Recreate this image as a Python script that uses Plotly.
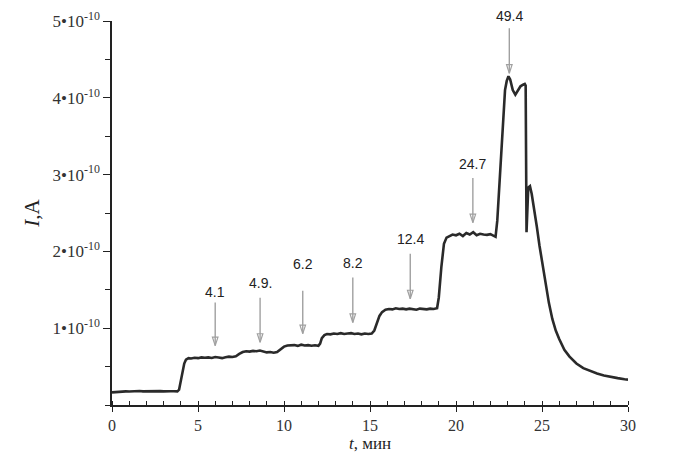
import plotly.graph_objects as go

# time, min
t = [0, 0.2, 0.4, 0.6, 0.8, 1.0, 1.2, 1.4, 1.6, 1.8, 2.0, 2.2, 2.4, 2.6, 2.8, 3.0, 3.2, 3.4, 3.6, 3.8,
     3.9, 4.0, 4.1, 4.2, 4.3, 4.45,
     4.6, 4.8, 5.0, 5.2, 5.4, 5.6, 5.8, 6.0, 6.2, 6.4, 6.6, 6.8, 7.0,
     7.2, 7.4, 7.6, 7.8,
     8.0, 8.2, 8.4, 8.6, 8.8, 9.0, 9.2, 9.4, 9.6,
     9.8, 10.0, 10.2,
     10.4, 10.6, 10.8, 11.0, 11.2, 11.4, 11.6, 11.8, 12.0,
     12.1, 12.2, 12.35, 12.5,
     12.7, 12.9, 13.1, 13.3, 13.5, 13.7, 13.9, 14.1, 14.3, 14.5, 14.7, 14.9, 15.1,
     15.25, 15.4, 15.55, 15.7, 15.9,
     16.1, 16.3, 16.5, 16.7, 16.9, 17.1, 17.3, 17.5, 17.7, 17.9, 18.1, 18.3, 18.5, 18.7, 18.9,
     19.0, 19.15, 19.3, 19.45, 19.6,
     19.8, 20.0, 20.2, 20.4, 20.6, 20.8, 21.0, 21.2, 21.4, 21.6, 21.8, 22.0, 22.2, 22.3,
     22.4, 22.55, 22.7, 22.85, 22.95, 23.05, 23.15, 23.3, 23.45, 23.6, 23.75, 23.9, 24.0, 24.05,
     24.1, 24.2, 24.3, 24.4, 24.55, 24.7, 24.85, 25.0, 25.2, 25.4, 25.6, 25.8, 26.0, 26.3, 26.6,
     27.0, 27.4, 27.8, 28.2, 28.6, 29.0, 29.4, 29.8, 30.0]

# current, units of 1e-10 A
current = [0.165, 0.17, 0.175, 0.172, 0.178, 0.175, 0.18, 0.176, 0.182, 0.178, 0.18, 0.176, 0.183, 0.179, 0.181, 0.177, 0.182, 0.179, 0.18, 0.178,
           0.2, 0.32, 0.45, 0.54, 0.59, 0.61,
           0.605, 0.615, 0.61, 0.62, 0.615, 0.62, 0.612, 0.625, 0.618, 0.61, 0.622, 0.63, 0.625,
           0.635, 0.665, 0.69, 0.70,
           0.695, 0.705, 0.70, 0.71, 0.695, 0.685, 0.69, 0.68, 0.69,
           0.73, 0.76, 0.775,
           0.775, 0.78, 0.77, 0.785, 0.775, 0.78, 0.772, 0.778, 0.77,
           0.80, 0.87, 0.91, 0.925,
           0.92, 0.93, 0.925, 0.935, 0.925, 0.93, 0.935, 0.925, 0.93, 0.92, 0.93, 0.925, 0.93,
           0.97, 1.07, 1.16, 1.21, 1.24,
           1.25, 1.245, 1.26, 1.25, 1.255, 1.245, 1.255, 1.25, 1.24, 1.255, 1.25, 1.245, 1.255, 1.25, 1.26,
           1.40, 1.80, 2.10, 2.18, 2.20,
           2.22, 2.21, 2.23, 2.20, 2.24, 2.22, 2.25, 2.21, 2.23, 2.22, 2.215, 2.225, 2.20, 2.19,
           2.40, 3.00, 3.60, 4.10, 4.22, 4.28, 4.24, 4.10, 4.04, 4.10, 4.15, 4.17, 4.18, 4.16,
           2.25, 2.83, 2.85, 2.75, 2.55, 2.32, 2.08, 1.87, 1.58, 1.33, 1.12, 0.97, 0.86, 0.72, 0.63,
           0.54, 0.48, 0.44, 0.41, 0.385, 0.365, 0.35, 0.335, 0.33]

# arrow annotations: label, x (min), tail value, tip value, label value (units of 1e-10 A)
arrow_labels = ["4.1", "4.9.", "6.2", "8.2", "12.4", "24.7", "49.4"]
arrow_x = [6.0, 8.61, 11.09, 14.0, 17.34, 20.98, 23.1]
arrow_tail = [1.335, 1.396, 1.487, 1.66, 1.968, 2.955, 4.906]
arrow_tip = [0.773, 0.816, 0.929, 1.075, 1.383, 2.374, 4.32]
label_y = [1.465, 1.595, 1.838, 1.855, 2.162, 3.136, 5.06]

y_tickvals = [1, 2, 3, 4, 5]
y_ticktext = ["1\u202210<sup>-10</sup>", "2\u202210<sup>-10</sup>", "3\u202210<sup>-10</sup>",
              "4\u202210<sup>-10</sup>", "5\u202210<sup>-10</sup>"]
x_tickvals = [0, 5, 10, 15, 20, 25, 30]

fig = go.Figure()
fig.add_trace(go.Scatter(x=t, y=current, mode="lines",
                         line=dict(color="#2a2a2a", width=2.6), showlegend=False,
                         hoverinfo="skip"))

# arrow shafts
shaft_x, shaft_y = [], []
for x, ya, yt in zip(arrow_x, arrow_tail, arrow_tip):
    shaft_x += [x, x, None]
    shaft_y += [ya, yt, None]
fig.add_trace(go.Scatter(x=shaft_x, y=shaft_y, mode="lines",
                         line=dict(color="#a0a0a0", width=1.4), showlegend=False,
                         hoverinfo="skip", cliponaxis=False))
# hollow arrow heads at the tips
fig.add_trace(go.Scatter(x=arrow_x, y=arrow_tip, mode="markers",
                         marker=dict(symbol="arrow-open", angle=180, size=9,
                                     color="#a0a0a0", line=dict(color="#8a8a8a", width=1.2)),
                         showlegend=False, hoverinfo="skip", cliponaxis=False))

annotations = []
for lab, x, ya, yl in zip(arrow_labels, arrow_x, arrow_tail, label_y):
    # label text sits at (ax, ay); an invisible arrow points at the (in-range) arrow tail
    annotations.append(dict(x=x, y=ya, ax=x, ay=yl, xref="x", yref="y", axref="x", ayref="y",
                            text=lab, showarrow=True, arrowcolor="rgba(0,0,0,0)", arrowwidth=0.1,
                            arrowhead=0,
                            font=dict(family="Liberation Sans", size=14, color="#222222")))

serif = "Liberation Serif"
fig.update_layout(
    width=673, height=462,
    margin=dict(l=104, r=53, t=13, b=65),
    paper_bgcolor="white", plot_bgcolor="white",
    annotations=annotations,
    xaxis=dict(range=[0, 30], tickvals=x_tickvals, showgrid=False, zeroline=False, automargin=False,
               showline=True, linecolor="#222", linewidth=1.5,
               ticks="outside", ticklen=5, tickwidth=1.3, tickcolor="#222",
               minor=dict(dtick=1, ticks="inside", ticklen=4, tickwidth=1.2, tickcolor="#222"),
               tickfont=dict(family=serif, size=16, color="#333"), ticklabelstandoff=0,
               title=dict(text="<i>t</i>, мин", font=dict(family=serif, size=17, color="#222"), standoff=0)),
    yaxis=dict(range=[0, 5], tickvals=y_tickvals, ticktext=y_ticktext, showgrid=False, zeroline=False,
               automargin=False,
               showline=True, linecolor="#222", linewidth=1.5,
               ticks="outside", ticklen=7, tickwidth=1.3, tickcolor="#222",
               minor=dict(dtick=0.5, ticks="outside", ticklen=5, tickwidth=1.2, tickcolor="#222"),
               tickfont=dict(family=serif, size=17, color="#333"),
               title=dict(text="<i>I</i>,A", font=dict(family=serif, size=21, color="#222"), standoff=7)),
)

fig.write_html("out.html")
